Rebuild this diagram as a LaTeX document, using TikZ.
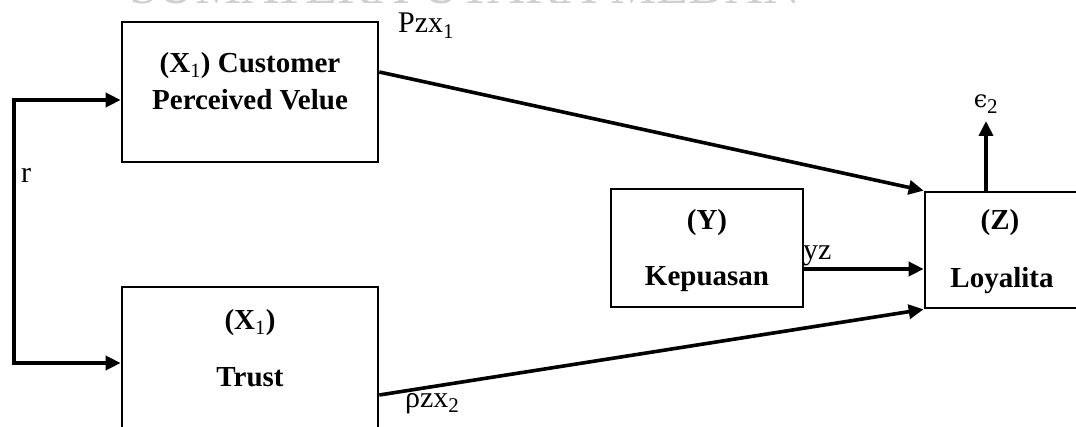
\documentclass[tikz,border=0pt]{standalone}
\usepackage{fontspec}
\setmainfont{Liberation Serif}
\newfontfamily\symf{DejaVu Serif}
\usetikzlibrary{arrows.meta}
\definecolor{wmG}{RGB}{208,208,208}
\newcommand{\BW}{256}
\newcommand{\RX}{14}

\begin{document}
\begin{tikzpicture}[
    x=1pt, y=-1pt,
    box/.style={rectangle, draw=black, line width=2.7pt, inner sep=0pt},
    lbl/.style={font=\fontsize{29}{34}\selectfont\bfseries, inner sep=0pt, anchor=base},
    coef/.style={font=\fontsize{30}{34}\selectfont, inner sep=0pt, anchor=base west},
    arr/.style={line width=3.6pt, -{Triangle[length=15pt,width=14pt]}},
    arrs/.style={line width=3.6pt, {Triangle[length=15pt,width=14pt]}-{Triangle[length=15pt,width=14pt]}},
  ]
  \useasboundingbox (0,0) rectangle (1076,427);
  \clip (0,0) rectangle (1076,427);

  % watermark, cut by the top edge
  \node[font=\fontsize{52}{52}\selectfont, text=wmG, inner sep=0pt, anchor=base] (wm) at (465,4) {SUMATERA UTARA MEDAN};

  % variable boxes
  \node[box, minimum width=\BW pt, minimum height=140pt] (X1) at (250,92) {};
  \node[box, minimum width=\BW pt, minimum height=183pt] (X2) at (250,378.5) {};
  \node[box, minimum width=192pt, minimum height=118pt] (Y) at (707,248) {};
  \node[box, minimum width=155pt, minimum height=116pt] (Z) at (1002.5,250) {};

  \node[lbl] (x1a) at (250,73)  {(X\textsubscript{\mdseries 1}) Customer};
  \node[lbl] (x1b) at (250,110) {Perceived Velue};
  \node[lbl] (x2a) at (250,330) {(X\textsubscript{\mdseries 1})};
  \node[lbl] (x2b) at (250,387) {Trust};
  \node[lbl] (ya) at (707,230)  {(Y)};
  \node[lbl] (yb) at (707,286)  {Kepuasan};
  \node[lbl] (za) at (1000,230) {(Z)};
  \node[lbl] (zb) at (1002,288) {Loyalita};

  % path coefficients
  \node[coef] (pa) at (398,33)  {Pzx\textsubscript{1}};
  \node[coef] (pb) at (405,407) {ρzx\textsubscript{2}};
  \node[coef] (pyz) at (803,260) {yz};
  \node[coef] (r) at (21,183)   {r};
  \node[coef, anchor=base] (eps) at (986,108) {{\symf\fontsize{24}{28}\selectfont ϵ}\textsubscript{2}};

  % correlation bracket
  \coordinate (rl) at (\RX,0);
  \coordinate (inA) at ([yshift=-8pt]X1.west);
  \coordinate (inB) at ([yshift=15.5pt]X2.west);
  \draw[arrs] (inA) -- (inA -| rl) -- (inB -| rl) -- (inB);

  % paths into Z
  \draw[arr] ([yshift=20pt]X1.east) -- (Z.north west);
  \draw[arr] ([yshift=-16.5pt]X2.east) -- (Z.south west);
  \coordinate (yo) at ([yshift=-21pt]Y.east);
  \draw[arr] (yo) -- (yo -| Z.west);
  \coordinate (etip) at (986,121);
  \draw[arr] (etip |- Z.north) -- (etip);

\end{tikzpicture}
\end{document}
